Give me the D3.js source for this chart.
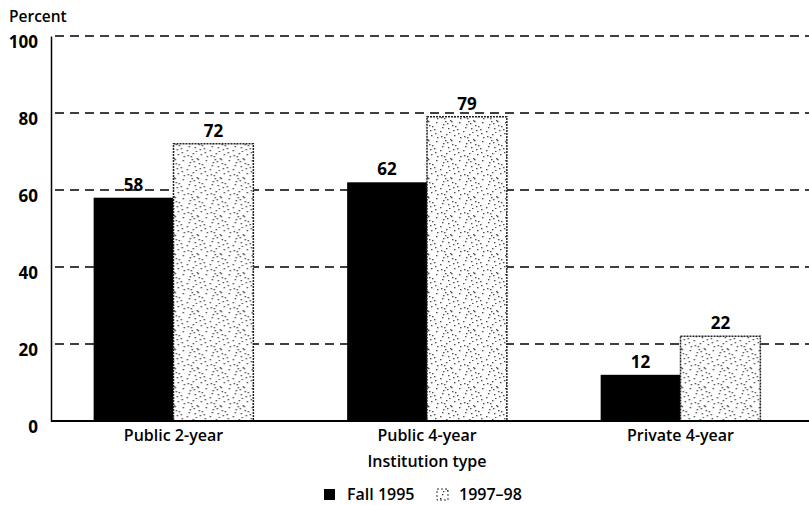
<!DOCTYPE html>
<html><head><meta charset="utf-8">
<script src="https://cdn.jsdelivr.net/npm/d3@7"></script>
<style>body{margin:0;background:#fff}text{font-family:"Open Sans","Noto Sans",sans-serif;font-weight:600;fill:#000}</style>
</head><body><svg id="c" width="809" height="505"></svg>
<script>
const categories = ["Public 2-year", "Public 4-year", "Private 4-year"];
const series = ["Fall 1995", "1997\u201398"];
const fall1995 = [58, 62, 12];
const y1997 = [72, 79, 22];
const yTicks = [0, 20, 40, 60, 80, 100];

const svg = d3.select("#c");
const m = {l: 51, r: 0, t: 36, b: 84};
const W = 809, H = 505;
const x = d3.scaleBand().domain(categories).range([m.l - 3, W - m.r - 3]).paddingInner(0.37).paddingOuter(0.18);
const xs = d3.scaleBand().domain(series).range([0, x.bandwidth()]);
const y = d3.scaleLinear().domain([0, 100]).range([H - m.b, m.t]);

// stipple pattern
const defs = svg.append("defs");
const pat = defs.append("pattern").attr("id", "stip").attr("patternUnits", "userSpaceOnUse").attr("width", 23).attr("height", 19);
pat.append("rect").attr("width", 23).attr("height", 19).attr("fill", "#fff");
const dots = [[2,3],[7,1],[11,6],[15,2],[20,8],[4,10],[9,14],[13,11],[18,15],[1,17],[6,7],[16,12],[21,4],[10,18],[3,13],[14,16],[19,0],[8,9],[12,7],[5,4]];
dots.forEach(d => pat.append("rect").attr("x", d[0]).attr("y", d[1]).attr("width", 1.3).attr("height", 1.3).attr("fill", "#333"));

// gridlines
svg.append("g").selectAll("line").data(yTicks.filter(d => d > 0)).join("line")
  .attr("x1", m.l + 4).attr("x2", W).attr("y1", d => y(d)).attr("y2", d => y(d))
  .attr("stroke", "#000").attr("stroke-width", 1.3).attr("stroke-dasharray", "9,6");

// y axis
const ya = svg.append("g").attr("transform", `translate(${m.l},0)`).call(d3.axisLeft(y).tickValues(yTicks).tickSize(0).tickPadding(13));
ya.select(".domain").attr("stroke", "#000").attr("stroke-width", 1.5);
ya.selectAll("text").attr("y", 6).style("font-size", "17px").style("font-weight", "700").attr("font-family", null);

// bars
const data = categories.map((c, i) => ({c, vals: [{s: series[0], v: fall1995[i]}, {s: series[1], v: y1997[i]}]}));
const g = svg.append("g").selectAll("g").data(data).join("g").attr("transform", d => `translate(${x(d.c)},0)`);
g.selectAll("rect").data(d => d.vals).join("rect")
  .attr("x", d => xs(d.s)).attr("width", xs.bandwidth())
  .attr("y", d => y(d.v)).attr("height", d => y(0) - y(d.v))
  .attr("fill", (d, i) => i === 0 ? "#000" : "url(#stip)")
  .attr("stroke", (d, i) => i === 0 ? "none" : "#222").attr("stroke-width", 1.5).attr("stroke-dasharray", (d, i) => i === 0 ? null : "2,1");
g.selectAll("text").data(d => d.vals).join("text")
  .attr("x", d => xs(d.s) + xs.bandwidth() / 2).attr("y", d => y(d.v) - 7)
  .attr("text-anchor", "middle").style("font-size", "17px").style("font-weight", "700").text(d => d.v);

// x axis
const xa = svg.append("g").attr("transform", `translate(0,${y(0)})`).call(d3.axisBottom(x).tickSize(0).tickPadding(9));
xa.select(".domain").attr("stroke", "#000").attr("stroke-width", 2).attr("d", `M${m.l},0H${W}`);
xa.selectAll("text").style("font-size", "16px").style("font-weight", "600").attr("font-family", null);

svg.append("text").attr("x", x(categories[1]) + x.bandwidth() / 2).attr("y", 467).attr("text-anchor", "middle").style("font-size", "16px").text("Institution type");
svg.append("text").attr("x", 9).attr("y", 22).style("font-size", "15.5px").text("Percent");

// legend
const lg = svg.append("g").attr("transform", "translate(324,500)");
lg.append("rect").attr("x", 0).attr("y", -11).attr("width", 11).attr("height", 11).attr("fill", "#000");
lg.append("text").attr("x", 23).attr("y", 0).style("font-size", "16px").text(series[0]);
lg.append("rect").attr("x", 113).attr("y", -11).attr("width", 11).attr("height", 11).attr("fill", "url(#stip)").attr("stroke", "#333").attr("stroke-dasharray", "2,2");
lg.append("text").attr("x", 135).attr("y", 0).style("font-size", "16px").text(series[1]);
</script></body></html>
